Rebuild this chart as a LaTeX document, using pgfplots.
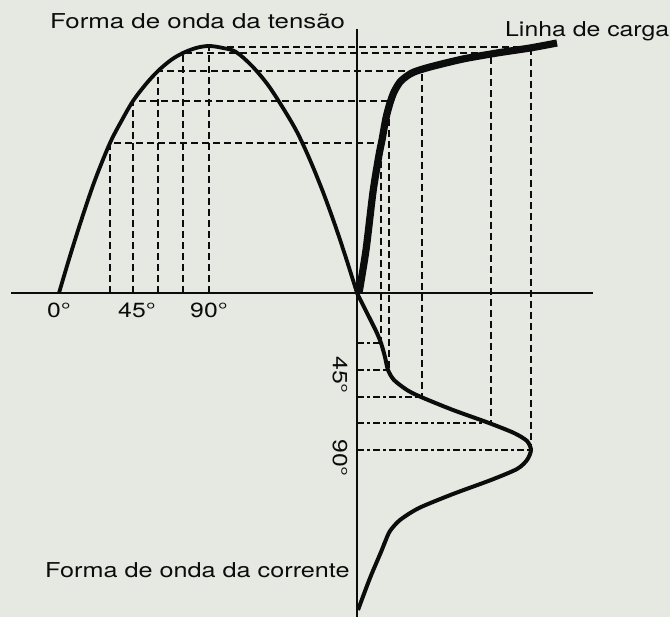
\documentclass[border=0pt]{standalone}
\usepackage{fontspec}
\setmainfont{TeX Gyre Heros}
\usepackage{graphicx}
\usepackage{pgfplots}
\pgfplotsset{compat=1.18}

\definecolor{paper}{RGB}{229,233,226}
\definecolor{ink}{RGB}{12,12,12}

% figure labels: Helvetica, set a little wide
\newcommand{\lbl}[2][1.21]{\fontsize{20.5}{23}\selectfont\scalebox{#1}[1]{#2}}

\begin{document}
\begin{tikzpicture}
\begin{axis}[
  width=670pt, height=617pt, scale only axis,
  xmin=0, xmax=670, ymin=0, ymax=617, y dir=reverse,
  hide axis, clip=false,
  dashv/.style={ink, line width=2.4pt, dash pattern=on 7pt off 4pt},
  dashdot/.style={ink, line width=2.4pt, dash pattern=on 7pt off 3pt on 3pt off 3pt},
]
\fill[paper] (axis cs:0,0) rectangle (axis cs:670,617);

% reference axes: angle axis of the voltage and amplitude axis of the current
\addplot[ink, line width=2.2pt] coordinates {(11,293) (593,293)};
\addplot[ink, line width=2.2pt] coordinates {(357,29) (357,617)};

% projection lines: voltage curve -> load line
\addplot[dashv] coordinates {(110,293) (110,143) (381,143)};
\addplot[dashv] coordinates {(133,293) (133,101) (388,101)};
\addplot[dashv] coordinates {(158,293) (158,71) (410,71)};
\addplot[dashv] coordinates {(183,293) (183,53) (478,53)};
\addplot[dashv] coordinates {(209,293) (209,47) (530,47)};
% load line -> current curve
\addplot[dashv] coordinates {(381,150) (381,343)};
\addplot[dashv] coordinates {(389,108) (389,370)};
\addplot[dashv] coordinates {(422,74) (422,397)};
\addplot[dashv] coordinates {(491,57) (491,423)};
\addplot[dashv] coordinates {(531,48) (531,450)};
\addplot[dashdot] coordinates {(357,343) (381,343)};
\addplot[dashdot] coordinates {(357,370) (389,370)};
\addplot[dashdot] coordinates {(357,397) (422,397)};
\addplot[dashdot] coordinates {(357,423) (491,423)};
\addplot[dashdot] coordinates {(357,450) (531,450)};

% voltage waveform
\addplot[ink, line width=3.8pt, smooth, tension=0.55] coordinates {
 (59,293) (70,256) (82,218) (95,180) (110,143) (122,120) (133,101)
 (146,84) (158,71) (171,60) (183,53) (196,48) (209,46) (223,48)
 (236,52) (252,66) (268,85) (283,108) (297,132) (310,160) (323,192)
 (335,225) (346,258) (357,293)};

% current waveform
\addplot[ink, line width=4pt, smooth, tension=0.45] coordinates {
 (357,293) (368,315) (376,331) (381,343) (385,357) (388,370) (394,380)
 (407,390) (421,397) (453,410) (489,423) (514,433) (527,441) (531,450)
 (527,460) (517,469) (491,480) (453,494) (419,508) (400,520) (390,531)
 (385,542) (381,552) (370,578) (358,610)};

% load line
\addplot[ink, line width=7.2pt, smooth, tension=0.45] coordinates {
 (359,293) (366,250) (373,192) (379,155) (382,140) (386,118) (390,103)
 (394,92) (400,82) (407,76) (414,72) (430,67) (463,59) (497,53)
 (530,48) (557,43)};

% labels
\begin{scope}[every node/.style={text=ink, inner sep=0pt}]
\node[anchor=base west] at (axis cs:50,29)  {\lbl[1.26]{Forma de onda da tensão}};
\node[anchor=base west] at (axis cs:505,37) {\lbl{Linha de carga}};
\node[anchor=base west] at (axis cs:45,578) {\lbl[1.23]{Forma de onda da corrente}};
\node[anchor=base] at (axis cs:59,318)  {\lbl{0°}};
\node[anchor=base] at (axis cs:137,318) {\lbl{45°}};
\node[anchor=base] at (axis cs:209,318) {\lbl{90°}};
\node[rotate=-90] at (axis cs:340,375) {\lbl{45°}};
\node[rotate=-90] at (axis cs:340,458) {\lbl{90°}};
\end{scope}
\end{axis}
\pgfresetboundingbox
\useasboundingbox (current axis.south west) rectangle (current axis.north east);
\end{tikzpicture}
\end{document}
